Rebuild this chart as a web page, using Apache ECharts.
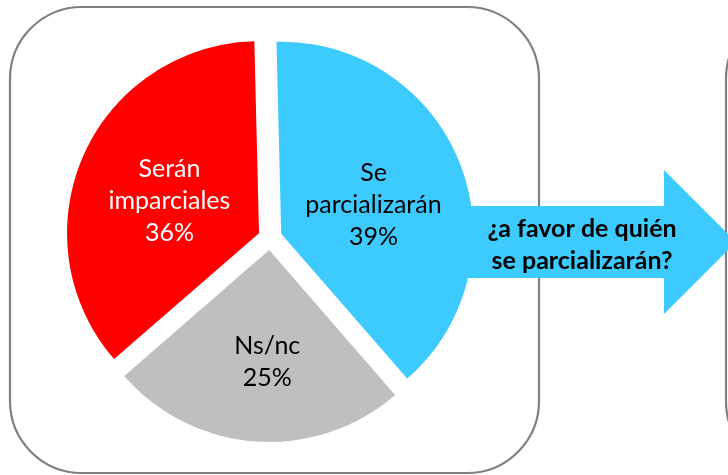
<!DOCTYPE html>
<html>
<head>
<meta charset="utf-8">
<script src="https://cdn.jsdelivr.net/npm/echarts@6/dist/echarts.min.js"></script>
<style>
html,body{margin:0;padding:0;background:#fff;}
#c{width:728px;height:475px;}
</style>
</head>
<body>
<div id="c"></div>
<script>
const categories = ['Se\nparcializarán', 'Ns/nc', 'Serán\nimparciales'];
const values = [39, 25, 36];
const colors = ['#3DCBFF', '#BFBFBF', '#FF0000'];
const labelColors = ['#000000', '#000000', '#FFFFFF'];
const labelShift = [[0, 7], [5, 13], [1, 8]];
const arrowText = '¿a favor de quién\nse parcializarán?';

const chart = echarts.init(document.getElementById('c'), null, {renderer: 'canvas'});
const data = categories.map((n, i) => ({
  name: n,
  value: values[i],
  selected: true,
  itemStyle: {color: colors[i]},
  label: {color: labelColors[i]}
}));

chart.setOption({
  animation: false,
  backgroundColor: '#ffffff',
  graphic: [
    {type: 'rect', z: 0, shape: {x: 10, y: 7, width: 529, height: 466, r: 72},
     style: {fill: 'none', stroke: '#808080', lineWidth: 2.2}},
    {type: 'rect', z: 0, shape: {x: 726, y: 7, width: 300, height: 466, r: 72},
     style: {fill: 'none', stroke: '#808080', lineWidth: 2.2}},
    {type: 'polygon', z: 1,
     shape: {points: [[420, 206], [664, 206], [664, 170], [736, 242], [664, 314], [664, 278], [420, 278]]},
     style: {fill: '#3DCBFF'}},
    {type: 'text', z: 10, x: 582, y: 245,
     style: {text: arrowText, fill: '#000', font: 'bold 25px Lato', align: 'center', verticalAlign: 'middle', lineHeight: 32}}
  ],
  series: [{
    type: 'pie',
    z: 5,
    center: [270, 238],
    radius: 192,
    startAngle: 91.4,
    clockwise: true,
    selectedMode: 'multiple',
    selectedOffset: 12,
    avoidLabelOverlap: false,
    emphasis: {disabled: true},
    label: {
      show: true,
      position: 'inner',
      formatter: '{b}\n{c}%',
      fontFamily: 'Lato',
      fontSize: 25,
      lineHeight: 32,
      align: 'center'
    },
    labelLayout: function (p) {
      const s = labelShift[p.dataIndex];
      return {dx: s[0], dy: s[1]};
    },
    labelLine: {show: false},
    data: data
  }]
});
</script>
</body>
</html>
